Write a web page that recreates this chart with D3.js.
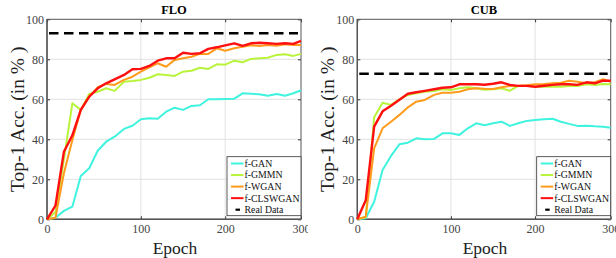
<!DOCTYPE html>
<html>
<head>
<meta charset="utf-8">
<script src="https://cdn.jsdelivr.net/npm/d3@7"></script>
<style>
  body { margin: 0; background: #fff; }
  svg { display: block; font-family: "Liberation Serif", "Times New Roman", serif; }
</style>
</head>
<body>
<svg width="616" height="258"></svg>
<script>
// epochs where the curves were sampled
var epochs = [0, 9, 18, 27, 36, 45, 54, 63, 72, 82, 91, 100, 110, 120, 130, 140,
  150, 160, 170, 180, 190, 200, 212, 223, 234, 245, 256, 268, 279, 290, 300];

var seriesNames = ["f-GAN", "f-GMMN", "f-WGAN", "f-CLSWGAN"];
var seriesColors = ["#3ff3de", "#b9f43c", "#ff9b1c", "#ff1010"];
var xTicks = [0, 100, 200, 300];
var yTicks = [0, 20, 40, 60, 80, 100];

// FLO
var floGan = [0, 0.8, 4.2, 6.3, 21.7, 25.5, 34.3, 38.8, 41.3, 45.2, 46.8, 50, 50.5, 50.3, 53.8, 55.8,
  54.7, 56.7, 57, 60, 60, 60.2, 60.3, 63, 62.8, 62.5, 61.8, 62.7, 61.8, 63, 64.5];
var floGmmn = [0, 3.5, 30, 58, 54.7, 62.7, 63.8, 65.5, 64.2, 68.8, 69.2, 69.7, 70.8, 72.5, 72.2, 71.7,
  73.8, 74.3, 75.8, 75.2, 77.5, 77.3, 79.3, 78.5, 80.2, 80.5, 80.8, 82.2, 82.5, 81.7, 82.7];
var floWgan = [0, 0.8, 23, 39.7, 54.7, 61.3, 66, 67.7, 67.2, 69.7, 71.3, 73.8, 76, 78, 76.3, 79.7,
  80.5, 81.3, 82.7, 82.7, 85.5, 84.3, 85.5, 86.3, 87, 86.7, 87.2, 86.8, 87.5, 87.2, 87.2];
var floCls = [0, 6.8, 33.8, 42, 54.7, 61.3, 65.5, 68, 70, 72.2, 75, 75.2, 76.7, 79.3, 80.5, 80.5,
  83.3, 82.7, 83, 85.2, 86, 87, 88, 86.7, 88, 88.3, 88, 87.7, 88, 87.7, 89.2];
var floReal = 93;

// CUB
var cubGan = [0, 0.5, 8.8, 24.7, 31.7, 37.5, 38.3, 40.5, 40, 40.2, 43, 43, 42.2, 45.5, 48, 47,
  48, 48.8, 46.7, 48, 49.2, 49.7, 50, 50.3, 48.8, 47.7, 46.7, 46.8, 46.5, 46.3, 45.8];
var cubGmmn = [0, 1, 51, 58.3, 57.2, 60, 62.2, 63, 63.8, 64.2, 65, 64.7, 65.5, 66, 65.5, 64.8,
  65, 65.5, 64.3, 66.7, 66.8, 66.3, 66.3, 66.3, 66.3, 66.7, 66.7, 67.5, 67.2, 67.7, 67.5];
var cubWgan = [0, 1.3, 35.5, 45.5, 48.8, 52.2, 56, 58.8, 59.7, 62.2, 63.3, 63.3, 63.8, 65, 65.5, 65.3,
  65.2, 66, 66.7, 66.8, 67, 67.5, 67.7, 68, 68.3, 69.3, 68.8, 68, 68.5, 70, 68.8];
var cubCls = [0, 9.5, 46.3, 54, 56.8, 59.8, 62.8, 63.5, 64.2, 65, 65.8, 66, 67.5, 67.5, 67.5, 67.3,
  67.8, 68.5, 67.2, 66.7, 66.7, 66.3, 66.8, 67.2, 67.5, 67.5, 67.2, 68.5, 68, 69.3, 69.3];
var cubReal = 72.8;

var svg = d3.select("svg");

var defs = svg.append("defs");
defs.append("clipPath").attr("id", "clip-left")
  .append("rect").attr("x", 0).attr("y", 0).attr("width", 308).attr("height", 258);

function drawPanel(opts) {
  var g = svg.append("g");
  if (opts.clip) g.attr("clip-path", "url(#" + opts.clip + ")");

  var left = opts.left, right = opts.right, w = right - left;
  // the x axis of the source figure is slightly compressed toward the right
  var x = d3.scaleLinear()
    .domain(xTicks)
    .range([left, left + w * 93.5 / 253, left + w * 177.5 / 253, right]);
  var y = d3.scaleLinear().domain([0, 100]).range([219.3, 19.3]);

  // grid
  g.selectAll(".vgrid").data(xTicks.slice(1, -1)).enter().append("line")
    .attr("x1", function (d) { return x(d); }).attr("x2", function (d) { return x(d); })
    .attr("y1", y(0)).attr("y2", y(100))
    .attr("stroke", "#e2e2e2").attr("stroke-width", 1);
  g.selectAll(".hgrid").data(yTicks.slice(1, -1)).enter().append("line")
    .attr("x1", left).attr("x2", right)
    .attr("y1", function (d) { return y(d); }).attr("y2", function (d) { return y(d); })
    .attr("stroke", "#e2e2e2").attr("stroke-width", 1);

  // axes
  var ax = g.append("g").attr("transform", "translate(0," + y(0) + ")")
    .call(d3.axisBottom(x).tickValues(xTicks).tickSizeInner(-3).tickSizeOuter(0).tickPadding(5));
  var ay = g.append("g").attr("transform", "translate(" + left + ",0)")
    .call(d3.axisLeft(y).tickValues(yTicks).tickSizeInner(-3).tickSizeOuter(0).tickPadding(3));
  var at = g.append("g").attr("transform", "translate(0," + y(100) + ")")
    .call(d3.axisTop(x).tickValues(xTicks).tickSizeInner(-3).tickSizeOuter(0).tickFormat(""));
  var ar = g.append("g").attr("transform", "translate(" + right + ",0)")
    .call(d3.axisRight(y).tickValues(yTicks).tickSizeInner(-3).tickSizeOuter(0).tickFormat(""));
  [ax, ay, at, ar].forEach(function (a) {
    a.select(".domain").remove();
    a.selectAll(".tick line").attr("stroke", "#333");
    a.selectAll("text")
      .attr("font-family", "Liberation Serif, serif")
      .attr("font-size", 12)
      .attr("fill", "#444");
  });

  g.append("rect")
    .attr("x", left).attr("y", y(100))
    .attr("width", w).attr("height", y(0) - y(100))
    .attr("fill", "none").attr("stroke", "#555").attr("stroke-width", 1);
  g.append("path")
    .attr("d", "M" + left + "," + y(100) + "V" + y(0) + "H" + right)
    .attr("fill", "none").attr("stroke", "#555").attr("stroke-width", 1.4);

  // curves
  var line = d3.line()
    .x(function (d, i) { return x(epochs[i]); })
    .y(function (d) { return y(d); });

  opts.series.forEach(function (vals, i) {
    g.append("path")
      .datum(vals)
      .attr("d", line)
      .attr("fill", "none")
      .attr("stroke", seriesColors[i])
      .attr("stroke-width", i === 3 ? 2.4 : 2)
      .attr("stroke-linejoin", "round");
  });

  g.append("line")
    .attr("x1", x(0) + 2).attr("x2", x(300) - 3)
    .attr("y1", y(opts.real)).attr("y2", y(opts.real))
    .attr("stroke", "#000").attr("stroke-width", 2.5)
    .attr("stroke-dasharray", "9.5,5.5");

  // title + labels
  g.append("text")
    .attr("x", (left + right) / 2).attr("y", 14)
    .attr("text-anchor", "middle")
    .attr("font-weight", "bold").attr("font-size", 12.5)
    .text(opts.title);

  g.append("text")
    .attr("x", (left + right) / 2 + 1).attr("y", 254)
    .attr("text-anchor", "middle")
    .attr("font-size", 17.5).attr("fill", "#222")
    .text("Epoch");

  g.append("text")
    .attr("transform", "translate(" + (left - 23) + "," + (y(50)) + ") rotate(-90)")
    .attr("text-anchor", "middle")
    .attr("font-size", 19.5).attr("fill", "#222")
    .text("Top-1 Acc. (in % )");

  // legend
  var lw = 74, lh = 59;
  var lx = right - lw, ly = y(0) - 3.6 - lh;
  var lg = g.append("g").attr("transform", "translate(" + lx + "," + ly + ")");
  lg.append("rect").attr("width", lw).attr("height", lh)
    .attr("fill", "#fff").attr("stroke", "#333").attr("stroke-width", 0.8);

  var items = seriesNames.concat(["Real Data"]);
  items.forEach(function (name, i) {
    var cy = 6.8 + i * 11.55;
    if (i < 4) {
      lg.append("line").attr("x1", 4).attr("x2", 16.5).attr("y1", cy).attr("y2", cy)
        .attr("stroke", seriesColors[i]).attr("stroke-width", 2);
    } else {
      lg.append("line").attr("x1", 8.5).attr("x2", 13).attr("y1", cy).attr("y2", cy)
        .attr("stroke", "#000").attr("stroke-width", 2.2);
    }
    lg.append("text").attr("x", 17.5).attr("y", cy + 3.4)
      .attr("font-size", 9.8).attr("fill", "#111")
      .text(name);
  });
}

drawPanel({
  left: 47, right: 301, title: "FLO", clip: "clip-left",
  series: [floGan, floGmmn, floWgan, floCls], real: floReal
});
drawPanel({
  left: 357.3, right: 610.7, title: "CUB",
  series: [cubGan, cubGmmn, cubWgan, cubCls], real: cubReal
});
</script>
</body>
</html>
